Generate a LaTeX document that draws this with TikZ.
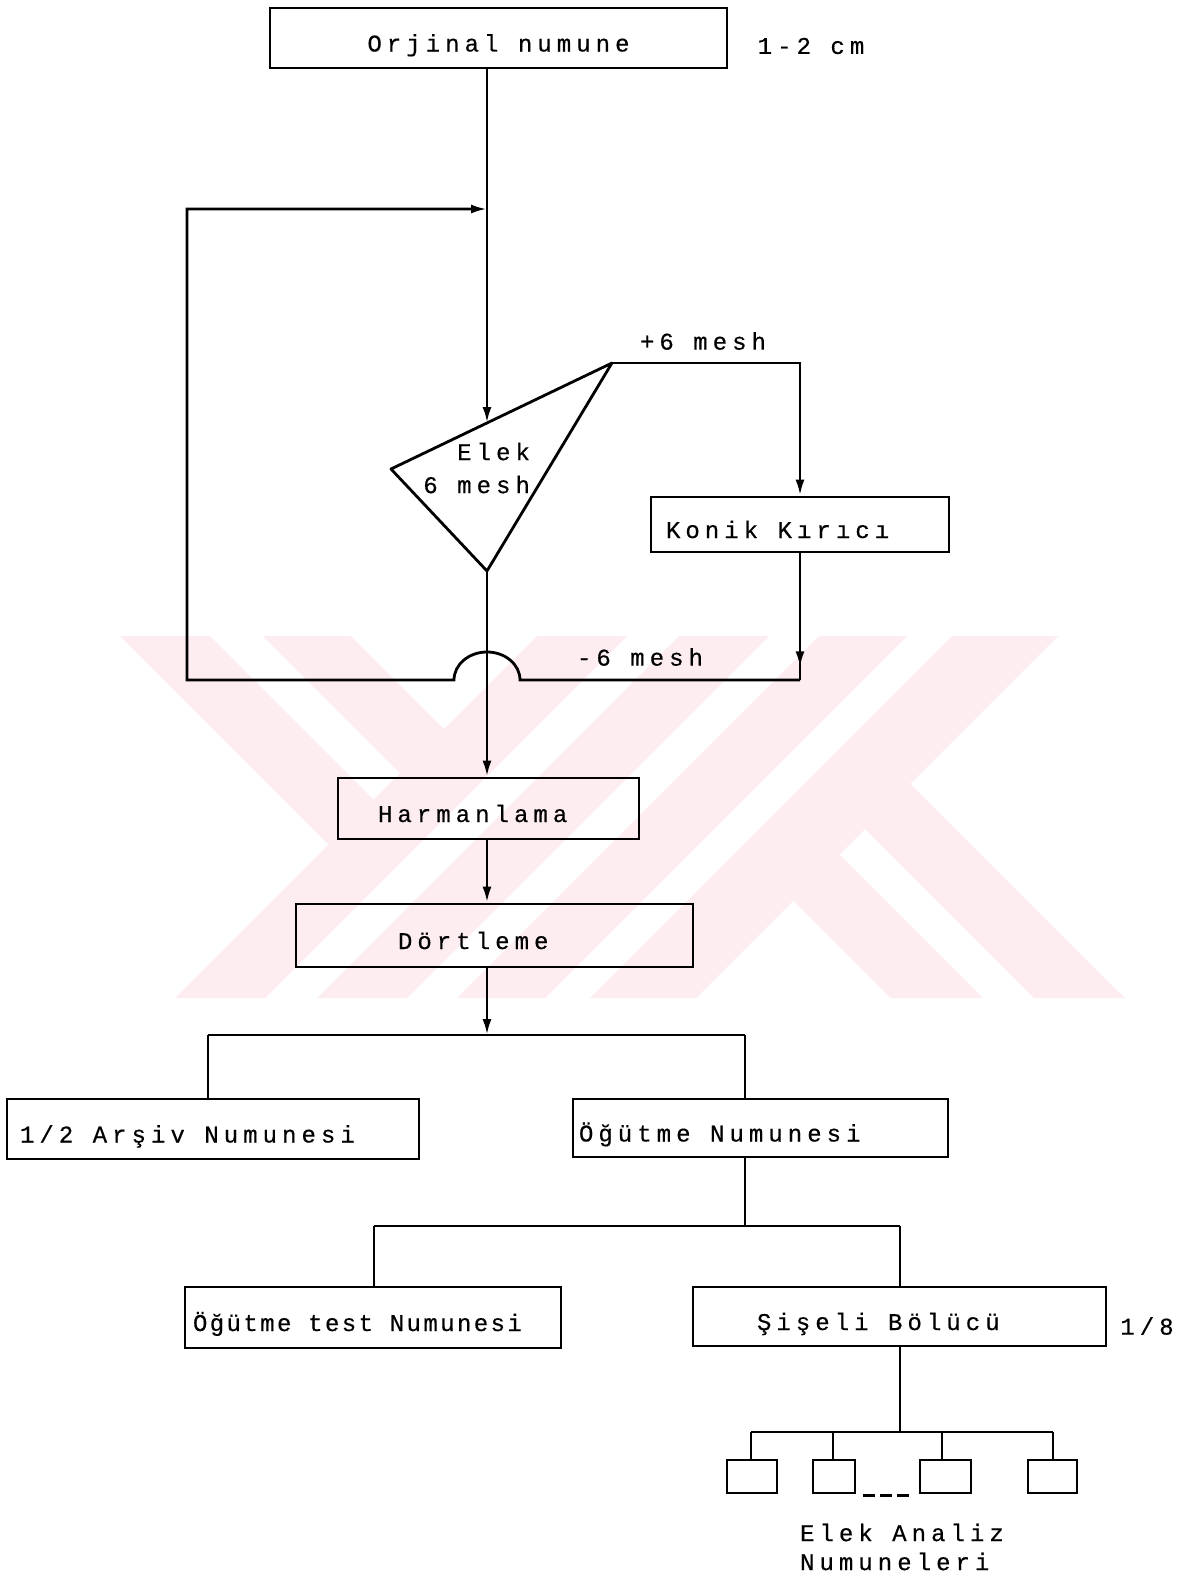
\documentclass[tikz,border=0pt]{standalone}
\usepackage{fontspec}
\newfontfamily\tw[LetterSpace=21,FakeBold=0.4]{Liberation Mono}
\newfontfamily\twc[LetterSpace=10,FakeBold=0.4]{Liberation Mono}
\usetikzlibrary{arrows.meta,decorations.markings,calc}
\definecolor{wm}{RGB}{253,236,240}
\begin{document}
\begin{tikzpicture}[x=0.5pt,y=-0.5pt,
  every node/.style={font=\tw\fontsize{12pt}{14pt}\selectfont},
  box/.style={draw,line width=1.4pt,rectangle,inner ysep=0pt,text height=16pt,text depth=2.5pt},
  sbox/.style={draw,line width=1.4pt,rectangle,inner sep=0pt},
  ln/.style={line width=1.4pt},
  tip/.style={-{Latex[length=8pt,width=4.5pt]}},
  arr/.style={ln,tip},
  midarrow/.style={postaction={decorate},decoration={markings,mark=at position 0.9 with {\arrow{Latex[length=8pt,width=4.5pt]}}}},
  wmfill/.style={fill=wm,draw=none}
]
\useasboundingbox (0,0) rectangle (1186,1580);
\fill[white] (0,0) rectangle (1186,1580);

% watermark
\fill[wmfill] (120,636) -- (210,636) -- (373.5,799.5) -- (328.5,844.5) -- cycle;
\fill[wmfill] (263,636) -- (351,636) -- (444,729) -- (400,773) -- cycle;
\fill[wmfill] (537,636) -- (627,636) -- (265,998) -- (175,998) -- cycle;
\fill[wmfill] (679,636) -- (769,636) -- (407,998) -- (317,998) -- cycle;
\fill[wmfill] (819,636) -- (907,636) -- (545,998) -- (457,998) -- cycle;
\fill[wmfill] (952,636) -- (1058,636) -- (696,998) -- (590,998) -- cycle;
\fill[wmfill] (793.5,900.5) -- (839.5,854.5) -- (983,998) -- (891,998) -- cycle;
\fill[wmfill] (865,829) -- (910.5,783.5) -- (1125,998) -- (1034,998) -- cycle;

% nodes
\node[box,inner xsep=0pt,minimum height=30pt] (orj) at (498.5,38) {\makebox[228.5pt][c]{Orjinal numune}};
\node (cm) at (811,46) {1-2 cm};

\coordinate (jn) at (487,209);
\coordinate (t1) at (391,469);
\coordinate (t2) at (612,363);
\coordinate (t3) at (487,571);
\coordinate (ein) at (487,423);
\coordinate (pr) at (800,363);
\coordinate (kb) at (800,680);
\coordinate (ar) at (520,680);
\coordinate (bl) at (187,680);
\coordinate (tl) at (187,209);

\node[box,inner xsep=7.5pt,minimum height=27.5pt] (konik) at (800,524.5) {\makebox[134pt][l]{Konik Kırıcı}};
\node (plus) at (703,341) {+6 mesh};
\node (minus) at (640,657) {-6 mesh};
\node[anchor=east,align=right,font=\tw\fontsize{12pt}{16.5pt}\selectfont] (elek) at (537,468) {Elek\\6 mesh};

\node[box,inner xsep=20pt,minimum height=30.5pt] (harm) at (488.5,808.5) {\makebox[110.5pt][l]{Harmanlama}};
\node[box,inner xsep=51pt,minimum height=31.5pt] (dort) at (494.5,935.5) {\makebox[96.5pt][l]{Dörtleme}};

\coordinate (h0) at (487,1035);
\coordinate (hl) at (208,1035);
\coordinate (hr) at (745,1035);

\node[box,inner xsep=6.5pt,minimum height=30pt] (arsiv) at (213,1129) {\makebox[193pt][l]{1/2 Arşiv Numunesi}};
\node[box,inner xsep=3pt,minimum height=29pt] (ogut) at (760.5,1128) {\makebox[181.5pt][l]{Öğütme Numunesi}};

\coordinate (g0) at (745,1226);
\coordinate (gl) at (374,1226);
\coordinate (gr) at (900,1226);

\node[box,inner xsep=4pt,minimum height=30.5pt,font=\twc\fontsize{12pt}{14pt}\selectfont] (ogtest) at (373,1317.5) {\makebox[180pt][l]{Öğütme test Numunesi}};
\node[box,inner xsep=32pt,minimum height=29.5pt] (sis) at (899.5,1316.5) {\makebox[142.5pt][l]{Şişeli Bölücü}};
\node (n18) at (1147,1326) {1/8};

\coordinate (s0) at (900,1432);
\coordinate (sl) at (751,1432);
\coordinate (s2) at (833,1432);
\coordinate (s3) at (942,1432);
\coordinate (sr) at (1053,1432);

\node[sbox,minimum width=25pt,minimum height=16.5pt] (b1) at (752,1476.5) {};
\node[sbox,minimum width=21pt,minimum height=16.5pt] (b2) at (834,1476.5) {};
\node[sbox,minimum width=25.5pt,minimum height=16.5pt] (b3) at (945.5,1476.5) {};
\node[sbox,minimum width=24.5pt,minimum height=16.5pt] (b4) at (1052.5,1476.5) {};
\node[anchor=west,align=left,font=\tw\fontsize{12pt}{14.5pt}\selectfont] (ean) at (793,1547) {Elek Analiz\\Numuneleri};

% connectors
\draw[arr] (orj.south -| jn) -- (ein);
\draw[ln,line join=round] (t1) -- (t2) -- (t3) -- cycle;
\draw[arr] (t2) -- (pr) -- (konik.north);
\draw[ln,midarrow] (konik.south) -- (kb);
\draw[arr] (kb) -- (ar) arc[start angle=0,end angle=-180,x radius=33,y radius=28] -- (bl) -- (tl) -- (jn);
\draw[arr] (t3) -- (harm.north -| t3);
\draw[arr] (harm.south -| t3) -- (dort.north -| t3);
\draw[arr] (dort.south -| t3) -- (h0);
\draw[ln] (hl) -- (hr);
\draw[ln] (hl) -- (arsiv.north -| hl);
\draw[ln] (hr) -- (ogut.north -| hr);
\draw[ln] (ogut.south -| hr) -- (g0);
\draw[ln] (gl) -- (gr);
\draw[ln] (gl) -- (ogtest.north -| gl);
\draw[ln] (gr) -- (sis.north -| gr);
\draw[ln] (sis.south -| gr) -- (s0);
\draw[ln] (sl) -- (sr);
\draw[ln] (sl) -- (b1.north -| sl);
\draw[ln] (s2) -- (b2.north -| s2);
\draw[ln] (s3) -- (b3.north -| s3);
\draw[ln] (sr) -- (b4.north -| sr);
\draw[ln,dash pattern=on 6pt off 2.5pt] ($(b2.south east)+(7,1)$) -- ($(b3.south west)+(-8,1)$);
\end{tikzpicture}
\end{document}
